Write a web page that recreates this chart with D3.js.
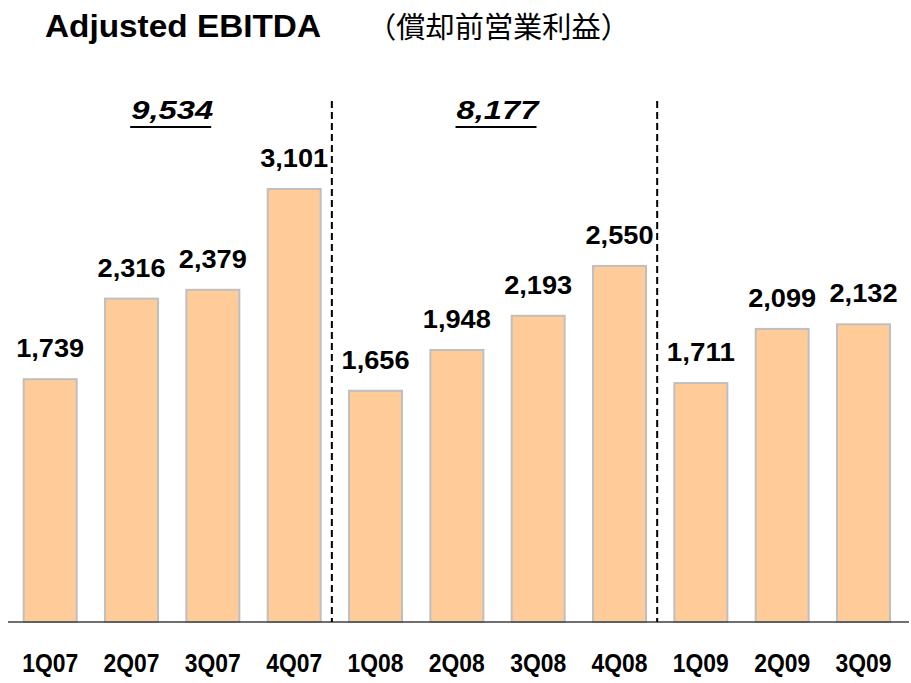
<!DOCTYPE html>
<html>
<head>
<meta charset="utf-8">
<script src="https://cdn.jsdelivr.net/npm/d3@7/dist/d3.min.js"></script>
<style>
  body { margin: 0; background: #fff; }
  text { font-family: "Liberation Sans", Arial, sans-serif; }
</style>
</head>
<body>
<div id="chart"></div>
<script>
// quarterly data
var quarters = ["1Q07", "2Q07", "3Q07", "4Q07", "1Q08", "2Q08", "3Q08", "4Q08", "1Q09", "2Q09", "3Q09"];
var ebitda = [1739, 2316, 2379, 3101, 1656, 1948, 2193, 2550, 1711, 2099, 2132];
// yearly totals: label, first quarter, last quarter
var yearTotals = ["9,534", "8,177"];
var yearStart = ["1Q07", "1Q08"];
var yearEnd = ["4Q07", "4Q08"];
// dashed separators go after these quarters
var separators = ["4Q07", "4Q08"];

var width = 911, height = 683, baseY = 622;

var svg = d3.select("#chart").append("svg")
    .attr("width", width)
    .attr("height", height);

var x = d3.scaleBand()
    .domain(quarters)
    .range([22.7, 891])
    .paddingInner(0.324)
    .paddingOuter(0);

var y = d3.scaleLinear()
    .domain([0, 3101])
    .range([baseY, 189]);

// title
svg.append("text")
    .attr("x", 45).attr("y", 37)
    .attr("font-size", 31).attr("font-weight", "bold")
    .attr("textLength", 276).attr("lengthAdjust", "spacingAndGlyphs")
    .text("Adjusted EBITDA");
svg.append("text")
    .attr("x", 367).attr("y", 38)
    .attr("font-size", 29)
    .style("font-family", "'Noto Sans CJK JP', sans-serif")
    .attr("textLength", 263).attr("lengthAdjust", "spacingAndGlyphs")
    .text("（償却前営業利益）");

// bars
svg.selectAll("rect.bar")
    .data(quarters)
    .enter().append("rect")
    .attr("class", "bar")
    .attr("x", function (d) { return x(d) + 1; })
    .attr("width", x.bandwidth() - 2)
    .attr("y", function (d, i) { return y(ebitda[i]); })
    .attr("height", function (d, i) { return baseY - y(ebitda[i]); })
    .attr("fill", "#FFCC99")
    .attr("stroke", "#BFBFBF")
    .attr("stroke-width", 2);

// value labels
svg.selectAll("text.val")
    .data(quarters)
    .enter().append("text")
    .attr("class", "val")
    .attr("x", function (d) { return x(d) + x.bandwidth() / 2 - 34; })
    .attr("y", function (d, i) { return y(ebitda[i]) - 22; })
    .attr("font-size", 25).attr("font-weight", "bold")
    .attr("textLength", 68).attr("lengthAdjust", "spacingAndGlyphs")
    .text(function (d, i) { return d3.format(",")(ebitda[i]); });

// axis line
svg.append("line")
    .attr("x1", 8).attr("x2", 909)
    .attr("y1", baseY).attr("y2", baseY)
    .attr("stroke", "#404040").attr("stroke-width", 1.5);

// category labels
svg.selectAll("text.cat")
    .data(quarters)
    .enter().append("text")
    .attr("class", "cat")
    .attr("x", function (d) { return x(d) + x.bandwidth() / 2 - 28; })
    .attr("y", 672)
    .attr("font-size", 25).attr("font-weight", "bold")
    .attr("textLength", 56).attr("lengthAdjust", "spacingAndGlyphs")
    .text(function (d) { return d; });

// separators
svg.selectAll("line.sep")
    .data(separators)
    .enter().append("line")
    .attr("class", "sep")
    .attr("x1", function (d) { return x(d) + x.bandwidth() + x.step() * 0.324 / 2 - 3; })
    .attr("x2", function (d) { return x(d) + x.bandwidth() + x.step() * 0.324 / 2 - 3; })
    .attr("y1", 101).attr("y2", baseY)
    .attr("stroke", "#000").attr("stroke-width", 2)
    .attr("stroke-dasharray", "7,4");

// year totals, underlined italic
var tot = svg.selectAll("g.total")
    .data(yearTotals)
    .enter().append("g")
    .attr("class", "total");
tot.append("text")
    .attr("x", function (d, i) { return (x(yearStart[i]) + x(yearEnd[i]) + x.bandwidth()) / 2 - 41; })
    .attr("y", 119)
    .attr("font-size", 26).attr("font-weight", "bold").attr("font-style", "italic")
    .attr("textLength", 82).attr("lengthAdjust", "spacingAndGlyphs")
    .text(function (d) { return d; });
tot.append("line")
    .attr("x1", function (d, i) { return (x(yearStart[i]) + x(yearEnd[i]) + x.bandwidth()) / 2 - 42; })
    .attr("x2", function (d, i) { return (x(yearStart[i]) + x(yearEnd[i]) + x.bandwidth()) / 2 + 39; })
    .attr("y1", 127).attr("y2", 127)
    .attr("stroke", "#000").attr("stroke-width", 2);
</script>
</body>
</html>
